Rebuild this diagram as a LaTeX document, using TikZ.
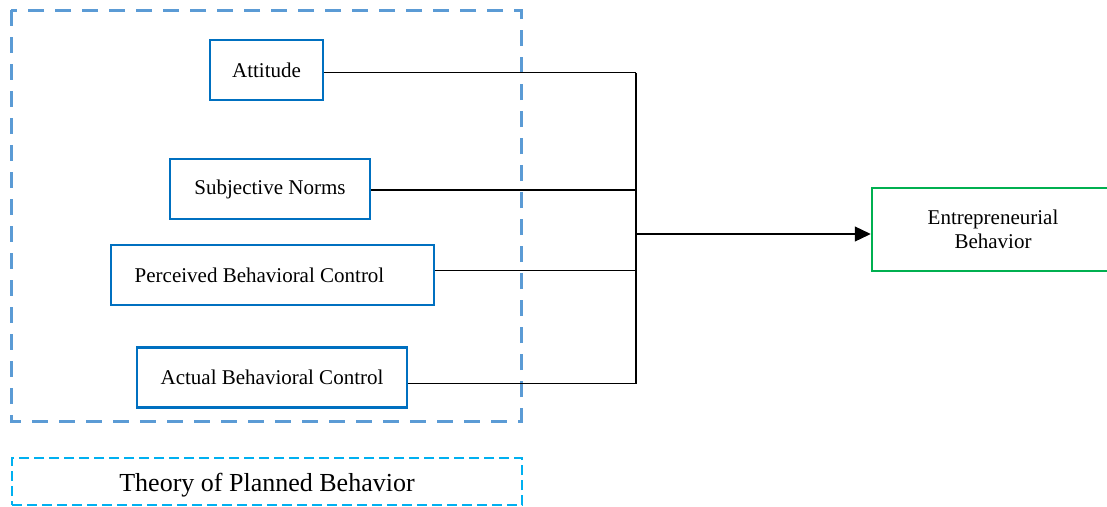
\documentclass[tikz,border=0pt]{standalone}
\usepackage{fontspec}
\setmainfont{Liberation Serif}
\usetikzlibrary{arrows.meta}
\definecolor{outerblue}{HTML}{5B9BD5}
\definecolor{boxblue}{HTML}{0070C0}
\definecolor{boxgreen}{HTML}{00B050}
\definecolor{lightblue}{HTML}{00B0F0}
\begin{document}
\begin{tikzpicture}[x=1pt,y=-1pt,
  factor/.style={draw=boxblue, line width=2.5pt, fill=white, inner sep=0pt,
    minimum height=60pt, font=\fontsize{21}{24}\selectfont},
  outcome/.style={draw=boxgreen, line width=2.5pt, inner sep=0pt, align=center,
    minimum height=83pt, minimum width=242pt, font=\fontsize{21}{24}\selectfont},
  link/.style={line width=1.2pt, black},
  group/.style={draw=outerblue, line width=3pt, dash pattern=on 16pt off 11pt},
  caption/.style={draw=lightblue, line width=1.6pt, dash pattern=on 10pt off 5pt,
    inner sep=0pt, font=\fontsize{26}{30}\selectfont}]
\useasboundingbox (0,0) rectangle (1107,506);
\fill[white] (0,0) rectangle (1107,506);
\draw[group] (11,10) rectangle (521,421);
\node[factor, minimum width=113pt] (att) at (266.5,70) {Attitude};
\node[factor, minimum width=200pt] (sn) at (270,189) {Subjective Norms};
\node[factor, minimum width=323pt] (pbc) at (272.5,275) {Perceived Behavioral Control\hspace*{26pt}};
\node[factor, minimum width=270pt] (abc) at (272,377.5) {Actual Behavioral Control};
\node[outcome] (eb) at (993,229.5) {Entrepreneurial\\Behavior};
\node[caption, minimum width=510pt, minimum height=47pt] (tpb) at (267,481.5) {\rule{0pt}{26pt}Theory of Planned Behavior};
\coordinate (j) at (636,234);
\coordinate (a1) at ([yshift=-2.5pt]att.east);
\coordinate (s1) at ([yshift=-1pt]sn.east);
\coordinate (p1) at ([yshift=4.5pt]pbc.east);
\coordinate (c1) at ([yshift=-6pt]abc.east);
\draw[link] (a1) -- (a1 -| j);
\draw[link] (s1) -- (s1 -| j);
\draw[link] (p1) -- (p1 -| j);
\draw[link] (c1) -- (c1 -| j);
\draw[link] (a1 -| j) -- (c1 -| j);
\draw[link, -{Triangle[length=16pt, width=15pt]}] (j) -- (eb.west |- j);
\end{tikzpicture}
\end{document}
